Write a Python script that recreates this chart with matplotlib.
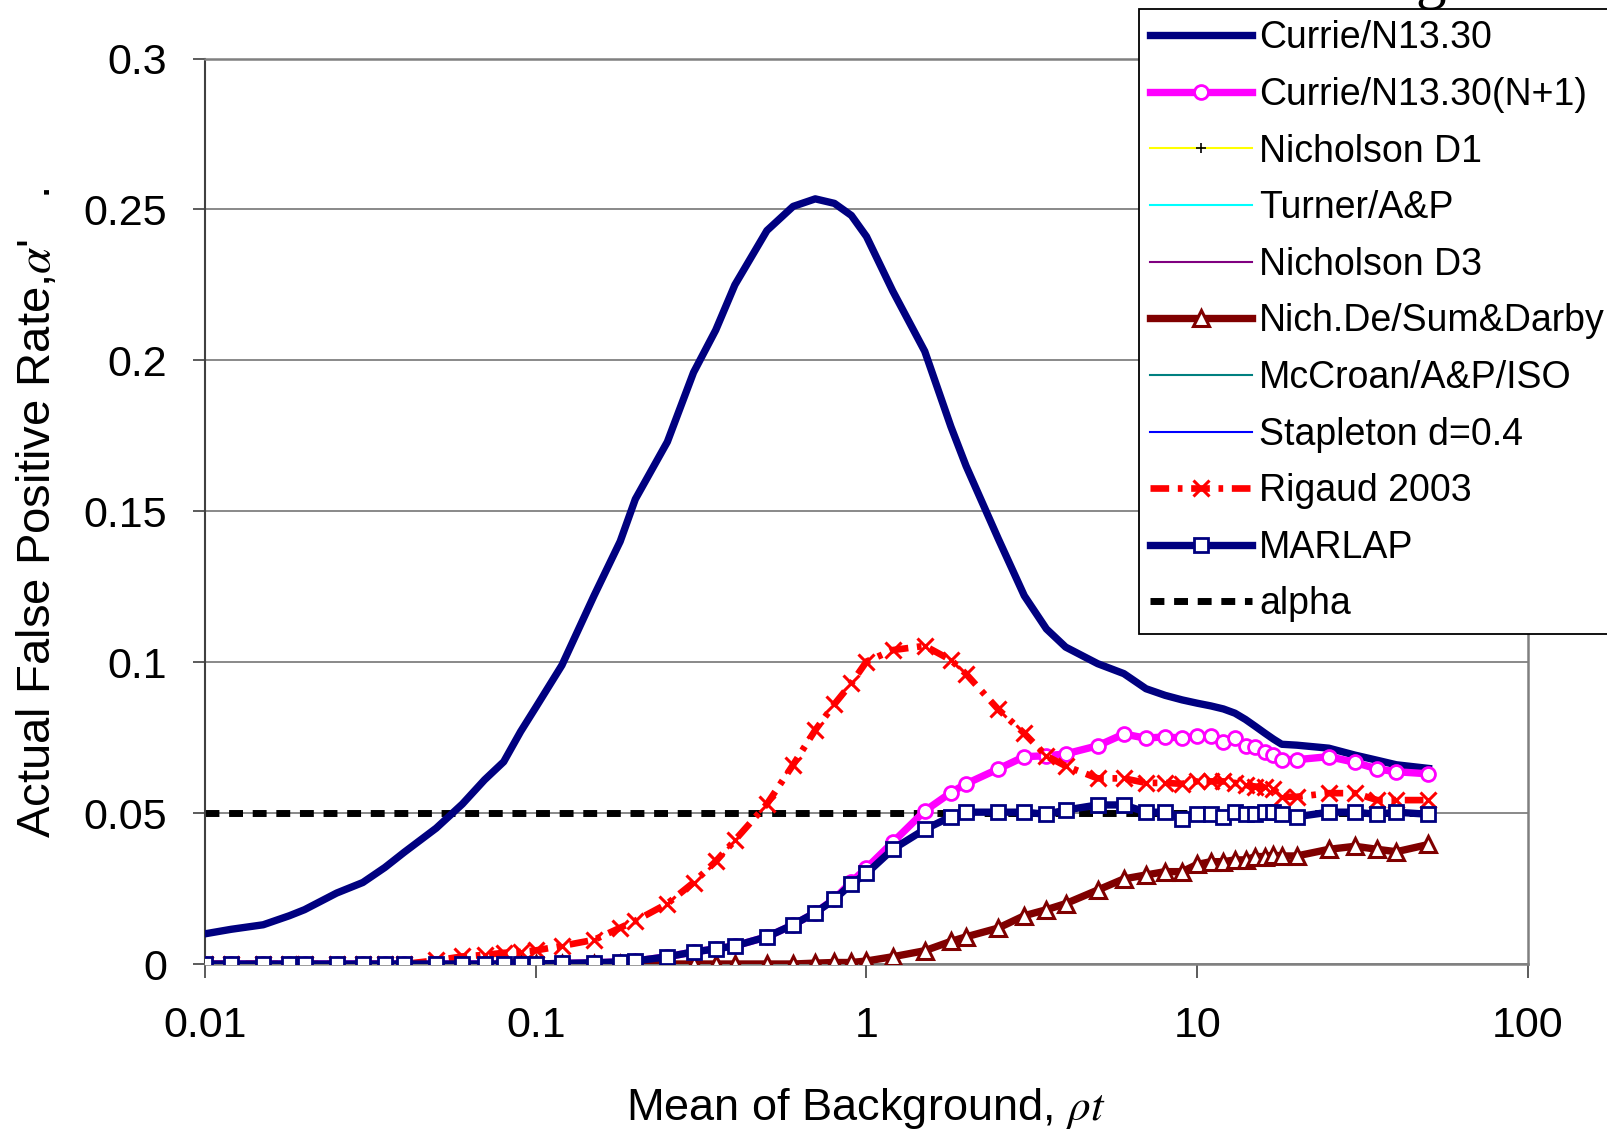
import matplotlib
matplotlib.use("Agg")
import matplotlib.pyplot as plt
from matplotlib.lines import Line2D

plt.rcParams["font.family"] = ["Liberation Sans", "DejaVu Sans"]
plt.rcParams["mathtext.fontset"] = "stix"

# mean background values (x grid shared by all series)
bkg = [0.01, 0.012, 0.015, 0.018, 0.02, 0.025, 0.03, 0.035, 0.04, 0.05,
       0.06, 0.07, 0.08, 0.09, 0.1, 0.12, 0.15, 0.18, 0.2, 0.25,
       0.3, 0.35, 0.4, 0.5, 0.6, 0.7, 0.8, 0.9, 1, 1.2,
       1.5, 1.8, 2, 2.5, 3, 3.5, 4, 5, 6, 7,
       8, 9, 10, 11, 12, 13, 14, 15, 16, 17,
       18, 20, 25, 30, 35, 40, 50]

currie = [0.0100, 0.0115, 0.0130, 0.0160, 0.0180, 0.0235, 0.0270, 0.0320, 0.0370, 0.0450,
          0.0530, 0.0610, 0.0670, 0.0770, 0.0850, 0.0990, 0.1220, 0.1400, 0.1540, 0.1730,
          0.1960, 0.2100, 0.2250, 0.2430, 0.2510, 0.2535, 0.2520, 0.2480, 0.2410, 0.2230,
          0.2030, 0.1780, 0.1650, 0.1410, 0.1220, 0.1110, 0.1050, 0.0995, 0.0962, 0.0912,
          0.0890, 0.0875, 0.0864, 0.0855, 0.0845, 0.0831, 0.0810, 0.0787, 0.0765, 0.0745,
          0.0728, 0.0725, 0.0715, 0.0692, 0.0675, 0.0660, 0.0648]

marlap = [0.0, 0.0, 0.0, 0.0, 0.0, 0.0, 0.0, 0.0, 0.0, 0.0,
          0.0, 0.0, 0.0, 0.0, 0.0, 0.0002, 0.0004, 0.0007, 0.0010, 0.0024,
          0.0040, 0.0050, 0.0060, 0.0090, 0.0130, 0.0170, 0.0214, 0.0265, 0.0300, 0.0380,
          0.0446, 0.0488, 0.0503, 0.0503, 0.0503, 0.0496, 0.0510, 0.0527, 0.0527, 0.0503,
          0.0503, 0.0480, 0.0496, 0.0496, 0.0488, 0.0503, 0.0496, 0.0496, 0.0503, 0.0503,
          0.0496, 0.0488, 0.0503, 0.0503, 0.0496, 0.0503, 0.0496]

currie_n1 = [0.0, 0.0, 0.0, 0.0, 0.0, 0.0, 0.0, 0.0, 0.0, 0.0,
             0.0, 0.0, 0.0, 0.0, 0.0, 0.0002, 0.0004, 0.0007, 0.0010, 0.0024,
             0.0040, 0.0050, 0.0060, 0.0090, 0.0130, 0.0170, 0.0216, 0.0272, 0.0318, 0.0403,
             0.0507, 0.0568, 0.0597, 0.0646, 0.0687, 0.0690, 0.0696, 0.0723, 0.0762, 0.0748,
             0.0753, 0.0748, 0.0755, 0.0755, 0.0737, 0.0748, 0.0723, 0.0720, 0.0704, 0.0693,
             0.0677, 0.0677, 0.0687, 0.0668, 0.0646, 0.0637, 0.0630]

rigaud = [0.0, 0.0, 0.0, 0.0, 0.0, 0.0, 0.0, 0.0, 0.0, 0.0012,
          0.0025, 0.0030, 0.0037, 0.0040, 0.0045, 0.0060, 0.0080, 0.0120, 0.0143, 0.0200,
          0.0270, 0.0340, 0.0410, 0.0530, 0.0660, 0.0775, 0.0861, 0.0930, 0.1002, 0.1040,
          0.1054, 0.1007, 0.0961, 0.0844, 0.0764, 0.0689, 0.0656, 0.0615, 0.0615, 0.0600,
          0.0600, 0.0597, 0.0605, 0.0605, 0.0605, 0.0600, 0.0592, 0.0588, 0.0585, 0.0580,
          0.0554, 0.0554, 0.0566, 0.0566, 0.0543, 0.0543, 0.0543]

# Nich.De / Sum & Darby starts at 0.08
nichde_bkg = bkg[12:]
nichde = [0.0, 0.0, 0.0, 0.0, 0.0, 0.0, 0.0, 0.0,
          0.0, 0.0, 0.0, 0.0, 0.0, 0.0003, 0.0005, 0.0005, 0.0010, 0.0024,
          0.0044, 0.0075, 0.0090, 0.0119, 0.0160, 0.0180, 0.0200, 0.0245, 0.0282, 0.0295,
          0.0306, 0.0306, 0.0330, 0.0339, 0.0339, 0.0345, 0.0345, 0.0356, 0.0356, 0.0361,
          0.0358, 0.0358, 0.0380, 0.0390, 0.0380, 0.0372, 0.0396]

alpha = [0.05] * len(bkg)

legend_labels = ["Currie/N13.30", "Currie/N13.30(N+1)", "Nicholson D1", "Turner/A&P",
                 "Nicholson D3", "Nich.De/Sum&Darby", "McCroan/A&P/ISO",
                 "Stapleton d=0.4", "Rigaud 2003", "MARLAP", "alpha"]

fig = plt.figure(figsize=(16.08, 11.32), dpi=100)
ax = fig.add_axes([205 / 1608, 1 - 964 / 1132, (1528 - 205) / 1608, (964 - 58.5) / 1132])

navy = "#000080"
lw = 5.3

l_alpha, = ax.plot(bkg, alpha, color="black", lw=5, dashes=(2.0, 1.4), zorder=2)
l_currie, = ax.plot(bkg, currie, color=navy, lw=lw, zorder=3)
l_n1, = ax.plot(bkg, currie_n1, color="#FF00FF", lw=lw, marker="o", ms=10,
                mfc="white", mec="#FF00FF", mew=2, zorder=3)
l_nichde, = ax.plot(nichde_bkg, nichde, color="#800000", lw=lw, marker="^", ms=11,
                    mfc="white", mec="#800000", mew=2.2, zorder=3)
l_rigaud, = ax.plot(bkg, rigaud, color="#FF0000", lw=4.8, dashes=(2.8, 1.3, 0.7, 1.3),
                    marker="x", ms=11, mew=2.2, mec="#FF0000", zorder=4)
l_marlap, = ax.plot(bkg, marlap, color=navy, lw=lw, marker="s", ms=10,
                    mfc="white", mec=navy, mew=2, zorder=5)

p_d1 = Line2D([], [], color="#FFFF00", lw=1.5, marker="+", ms=7, mec="black", mew=1.2)
p_turner = Line2D([], [], color="#00FFFF", lw=1.5)
p_d3 = Line2D([], [], color="#800080", lw=1.5)
p_mccroan = Line2D([], [], color="#008080", lw=1.5)
p_stapleton = Line2D([], [], color="#0000FF", lw=1.5)

handles = [l_currie, l_n1, p_d1, p_turner, p_d3, l_nichde, p_mccroan,
           p_stapleton, l_rigaud, l_marlap, l_alpha]

ax.set_xscale("log")
ax.set_xlim(0.01, 100)
ax.set_ylim(0, 0.3)
ax.set_xticks([0.01, 0.1, 1, 10, 100])
ax.set_xticklabels(["0.01", "0.1", "1", "10", "100"])
ax.minorticks_off()
ax.set_yticks([0, 0.05, 0.1, 0.15, 0.2, 0.25, 0.3])
ax.set_yticklabels(["0", "0.05", "0.1", "0.15", "0.2", "0.25", "0.3"])
ax.tick_params(axis="y", labelsize=31, length=9, width=1.2, pad=18, color="#404040")
ax.tick_params(axis="x", labelsize=31, length=10, width=1.2, pad=20, color="#404040")
ax.yaxis.grid(True, color="#808080", lw=1.3)
ax.set_axisbelow(True)
for side in ["top", "right", "bottom"]:
    ax.spines[side].set_color("#808080")
    ax.spines[side].set_linewidth(1.8)
ax.spines["left"].set_color("#404040")
ax.spines["left"].set_linewidth(1.5)

fig.text(866 / 1608, 1 - 1120 / 1132, r"Mean of Background, $\rho t$",
         fontsize=32.5, ha="center", va="baseline")
fig.text(50 / 1608, 1 - 513 / 1132, r"Actual False Positive Rate,$\alpha$'   .",
         fontsize=34, rotation=90, rotation_mode="anchor", ha="center", va="baseline")

# clipped chart title above the figure
fig.text(1415 / 1608, 1 + 3 / 1132, "g", fontsize=44, family="Liberation Serif",
         va="baseline", ha="left")

leg = ax.legend(handles, legend_labels, loc="upper left",
                bbox_to_anchor=(1139 / 1608, 1 - 9 / 1132), bbox_transform=fig.transFigure,
                fontsize=27, frameon=True, fancybox=False, framealpha=1,
                edgecolor="black", borderpad=0.3, labelspacing=0.55,
                handlelength=2.72, handletextpad=0.18, borderaxespad=0)
leg.get_frame().set_linewidth(1.3)

fig.savefig("out.png", dpi=100)
